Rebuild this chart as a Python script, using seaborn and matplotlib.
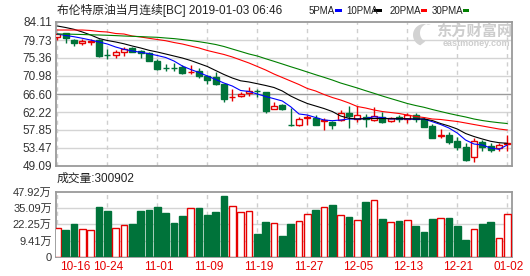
import numpy as np
import pandas as pd
import matplotlib
matplotlib.use("Agg")
import matplotlib.pyplot as plt
from matplotlib.patches import Rectangle, Polygon
from matplotlib import transforms
import seaborn as sns

# ---------------- data ----------------
tick_labels = ["10-16", "10-24", "11-01", "11-09", "11-19", "11-27",
               "12-05", "12-13", "12-21", "01-02"]

open_ = [80.53, 81.36, 79.73, 79.08, 79.24, 79.73, 76.06, 76.01, 76.74, 77.79,
         77.06, 76.67, 74.63, 72.98, 73.00, 73.24, 71.95, 72.19, 71.05, 70.81,
         69.03, 65.75, 66.11, 66.84, 67.40, 67.16, 62.88, 63.93, 59.10, 59.13,
         60.80, 60.84, 60.10, 59.86, 60.28, 61.95, 60.45, 61.08, 60.28, 61.08,
         60.03, 60.93, 60.55, 61.49, 60.45, 58.82, 56.50, 56.63, 55.24, 53.78,
         51.35, 54.85, 54.03, 53.40, 54.50]
high = [81.36, 81.40, 79.90, 80.05, 79.98, 79.90, 77.47, 77.23, 77.96, 78.00,
        77.30, 76.81, 75.04, 73.90, 74.07, 73.57, 73.57, 73.00, 71.10, 72.02,
        69.10, 67.74, 67.16, 68.37, 67.74, 67.20, 64.73, 64.17, 63.12, 60.93,
        61.57, 61.40, 60.69, 60.00, 62.71, 63.68, 63.68, 61.66, 63.36, 62.30,
        61.10, 61.50, 61.90, 61.90, 60.90, 59.40, 58.00, 57.43, 56.07, 54.60,
        55.83, 55.41, 54.60, 54.60, 56.60]
low = [79.73, 78.93, 78.35, 78.59, 78.52, 75.67, 75.11, 75.43, 75.91, 76.70,
       75.28, 74.60, 72.44, 72.27, 72.27, 71.40, 71.45, 70.56, 69.03, 68.70,
       64.73, 64.97, 65.80, 66.11, 65.80, 62.05, 62.88, 62.80, 58.82, 58.82,
       59.13, 59.00, 57.84, 58.00, 60.11, 58.40, 59.86, 58.50, 60.03, 59.60,
       59.70, 59.80, 59.47, 59.80, 58.60, 55.90, 55.80, 54.44, 52.98, 50.40,
       50.14, 52.81, 52.40, 52.80, 52.74]
close = [81.12, 80.14, 78.93, 79.49, 79.41, 75.91, 75.98, 76.81, 77.47, 76.89,
         76.50, 74.70, 72.75, 72.90, 72.90, 71.78, 72.05, 70.98, 70.01, 69.03,
         65.46, 65.87, 66.60, 67.26, 67.30, 62.54, 63.68, 62.88, 58.99, 60.45,
         60.93, 59.13, 60.28, 59.06, 61.91, 61.30, 61.49, 60.45, 61.33, 59.86,
         60.84, 60.45, 61.49, 60.45, 58.66, 55.97, 56.60, 54.99, 53.78, 50.55,
         55.24, 53.78, 52.98, 54.20, 54.70]
volume = [19.0, 17.7, 22.4, 18.2, 17.7, 35.9, 32.7, 19.0, 21.4, 22.4,
          32.7, 33.5, 35.9, 31.4, 23.2, 28.8, 35.6, 35.1, 29.5, 31.9,
          44.5, 37.2, 31.9, 32.7, 14.5, 24.0, 23.0, 13.0, 22.4, 24.8,
          30.3, 33.5, 36.4, 37.4, 29.3, 28.2, 25.6, 39.8, 41.9, 26.4,
          24.0, 25.0, 25.6, 21.1, 16.4, 26.4, 26.9, 27.2, 21.1, 9.8,
          18.5, 22.4, 24.3, 11.1, 30.09]
ma5 = [81.19, 80.83, 80.53, 80.15, 79.73, 79.25, 78.76, 78.03, 77.47, 77.06,
       76.74, 76.40, 75.96, 75.48, 74.62, 73.41, 72.56, 71.83, 70.98, 70.13,
       69.27, 68.54, 67.45, 67.21, 66.60, 65.99, 65.46, 64.90, 63.51, 61.74,
       61.49, 60.88, 60.28, 60.11, 60.28, 60.52, 60.52, 60.64, 61.08, 60.84,
       60.52, 60.59, 60.52, 60.45, 60.52, 59.86, 59.18, 58.33, 57.10, 55.40,
       54.44, 54.20, 53.47, 53.15, 54.20]
ma10 = [83.14, 82.77, 82.33, 81.68, 80.95, 80.10, 79.61, 79.25, 78.81, 78.27,
        77.79, 77.23, 76.81, 76.33, 75.84, 75.35, 74.75, 74.02, 73.29, 72.31,
        71.34, 70.49, 69.81, 69.52, 69.10, 68.67, 68.18, 67.33, 66.11, 65.14,
        64.29, 63.68, 63.07, 62.34, 61.25, 60.69, 60.52, 60.59, 60.64, 60.64,
        60.59, 60.59, 60.59, 60.52, 60.52, 60.15, 59.42, 58.82, 58.09, 56.99,
        56.26, 55.66, 55.10, 54.76, 54.61]
ma20 = [82.16, 82.16, 82.16, 82.16, 82.04, 81.80, 81.68, 81.31, 81.19, 80.70,
        80.46, 80.15, 79.85, 79.56, 79.12, 78.76, 78.27, 77.79, 77.18, 76.69,
        76.21, 75.60, 74.87, 74.14, 73.29, 72.44, 71.46, 70.61, 69.76, 68.91,
        67.94, 67.33, 66.48, 65.75, 65.14, 64.41, 63.56, 63.19, 62.71, 62.34,
        62.10, 61.86, 61.49, 61.13, 60.88, 60.52, 60.40, 60.15, 59.91, 59.55,
        59.18, 58.82, 58.45, 58.09, 57.84]
ma30 = [81.19, 81.19, 81.12, 81.07, 81.00, 80.95, 80.88, 80.80, 80.70, 80.63,
        80.56, 80.46, 80.39, 80.22, 80.07, 79.85, 79.61, 79.32, 79.00, 78.64,
        78.15, 77.54, 76.94, 76.33, 75.84, 75.18, 74.55, 73.90, 73.24, 72.61,
        71.95, 71.29, 70.66, 70.00, 69.27, 68.67, 68.06, 67.40, 66.77, 66.11,
        65.50, 64.90, 64.29, 63.80, 63.37, 62.83, 62.34, 61.86, 61.42, 61.01,
        60.52, 60.15, 59.86, 59.62, 59.42]
price_ticks = [84.11, 79.73, 75.36, 70.98, 66.60, 62.22, 57.85, 53.47, 49.09]
vol_ticks = [0, 9.41, 22.25, 35.09, 47.92]
ma_names = ["5PMA", "10PMA", "20PMA", "30PMA"]

# ---------------- style ----------------
sns.set_style("white")
plt.rcParams["font.family"] = ["Liberation Sans", "Noto Sans CJK SC"]

RED = "#e60000"
GREEN = "#00733a"
MA_COLORS = {"5PMA": "#0000ff", "10PMA": "#000000", "20PMA": "#ff0000", "30PMA": "#008000"}
GRID = "#d4d4d4"
FRAME = "#9a9a9a"
TXT = "#333333"

W, H = 530, 276
fig = plt.figure(figsize=(W / 100, H / 100), dpi=100)
fig.patch.set_facecolor("white")

def fx(x):
    return x / W

def fy(y):
    return 1 - y / H

L, R = 56, 512.3
ax = fig.add_axes([fx(L), fy(166), (R - L) / W, 144 / H])
axv = fig.add_axes([fx(L), fy(256.7), (R - L) / W, 64.7 / H])

n = len(close)
xs = np.arange(n)
o = np.array(open_); c = np.array(close); hi = np.array(high); lo = np.array(low)
up = c >= o

# ---------------- MA lines via seaborn ----------------
df = pd.DataFrame({
    "idx": np.tile(xs, 4),
    "value": np.concatenate([ma5, ma10, ma20, ma30]),
    "ma": np.repeat(ma_names, n),
})
sns.lineplot(data=df, x="idx", y="value", hue="ma", palette=MA_COLORS,
             hue_order=ma_names, legend=False, linewidth=0.8, ax=ax, zorder=6,
             estimator=None)

# ---------------- candles ----------------
bw = 0.72
for i in range(n):
    col = RED if up[i] else GREEN
    ax.vlines(i, lo[i], hi[i], color=col, lw=1.0, zorder=3)
    b = min(o[i], c[i])
    h = max(abs(c[i] - o[i]), 0.06)
    ax.bar(i, h, bottom=b, width=bw, facecolor="white" if up[i] else col,
           edgecolor=col, linewidth=1.0, zorder=4)

ax.set_xlim(-0.16, 54.6)
ax.set_ylim(price_ticks[-1], price_ticks[0])
ax.set_yticks(price_ticks)
ax.set_yticklabels([f"{t:.2f}" for t in price_ticks])
for t in price_ticks[1:-1]:
    dark = abs(t - 66.60) < 0.01
    ax.axhline(t, color="#9a9a9a" if dark else GRID, lw=1.0, zorder=0)

# ---------------- volume ----------------
vol_floor = vol_ticks[1] - (vol_ticks[2] - vol_ticks[1])
vol_pos = [vol_floor] + vol_ticks[1:]
vol = np.array(volume)
for i in range(n):
    col = RED if up[i] else GREEN
    axv.bar(i, vol[i] - vol_floor, bottom=vol_floor, width=0.8,
            facecolor="white" if up[i] else col, edgecolor=col,
            linewidth=1.0, zorder=3)
axv.set_xlim(-0.16, 54.6)
axv.set_ylim(vol_floor, vol_ticks[-1])
axv.set_yticks(vol_pos)
axv.set_yticklabels(["0"] + [f"{t:.2f}万" for t in vol_ticks[1:]])
for t in vol_pos[1:-1]:
    axv.axhline(t, color=GRID, lw=1.0, zorder=0)

# ---------------- common axis styling ----------------
for a, fs in ((ax, 8.5), (axv, 8.0)):
    for k in range(0, n, 6):
        a.axvline(k, color="#cfcfcf", lw=1.0, ls=(0, (3, 3)), zorder=0)
    a.set_xticks([])
    a.set_xlabel("")
    a.set_ylabel("")
    a.tick_params(axis="y", length=0, pad=3, labelsize=fs, labelcolor=TXT)
    for s in a.spines.values():
        s.set_visible(True)
        s.set_color(FRAME)
        s.set_linewidth(1.3)
    a.set_facecolor("white")

# date labels under the volume panel
trans = transforms.blended_transform_factory(axv.transData, fig.transFigure)
for j, lab in enumerate(tick_labels):
    k = j * 6
    if j == 0:
        axv.text(k + 0.32, fy(266.7), lab, transform=trans, ha="left",
                 va="center", fontsize=8.5, color=RED)
    else:
        axv.text(k + 0.15, fy(266.7), lab, transform=trans, ha="center",
                 va="center", fontsize=8.5, color=RED)

# ---------------- header texts ----------------
fig.text(fx(57), fy(10.5), "布伦特原油当月连续[BC] 2019-01-03 06:46",
         fontsize=8.5, color="#222222", ha="left", va="center")

leg_items = [("5PMA", 309, 335.0, 6.7), ("10PMA", 346.7, 374.0, 7.7),
             ("20PMA", 390.0, 420.7, 6.7), ("30PMA", 431.7, 463.3, 6.0)]
for name, tx, rx, rw in leg_items:
    fig.text(fx(tx), fy(10.5), name, fontsize=7, color="#222222",
             ha="left", va="center")
    fig.add_artist(Rectangle((fx(rx), fy(12.0)), rw / W, 2.8 / H,
                             transform=fig.transFigure, facecolor=MA_COLORS[name],
                             edgecolor="none"))

fig.text(fx(57), fy(178.5), "成交量:300902", fontsize=8.5, color="#222222",
         ha="left", va="center")

# watermark (logo swoosh + brand text)
t_out = np.linspace(np.radians(70), np.radians(250), 30)
t_in = np.linspace(np.radians(250), np.radians(70), 30)
outer = [(424 + 11 * np.cos(t), 35 - 11 * np.sin(t)) for t in t_out]
inner = [(428 + 8 * np.cos(t), 33 - 9 * np.sin(t)) for t in t_in]
pts = [(fx(px), fy(py)) for px, py in outer + inner]
fig.add_artist(Polygon(pts, closed=True, transform=fig.transFigure,
                       facecolor="#d2d2d2", edgecolor="none", zorder=1))
fig.text(fx(474.5), fy(30.5), "东方财富网", fontsize=11, fontweight="bold",
         color="#cdcdcd", ha="center", va="center",
         family=["Noto Sans CJK SC"], zorder=1)
fig.text(fx(476), fy(43), "eastmoney.com", fontsize=6.5, fontweight="bold",
         color="#cdcdcd", ha="center", va="center", zorder=1)

fig.savefig("out.png", dpi=100, facecolor="white")
